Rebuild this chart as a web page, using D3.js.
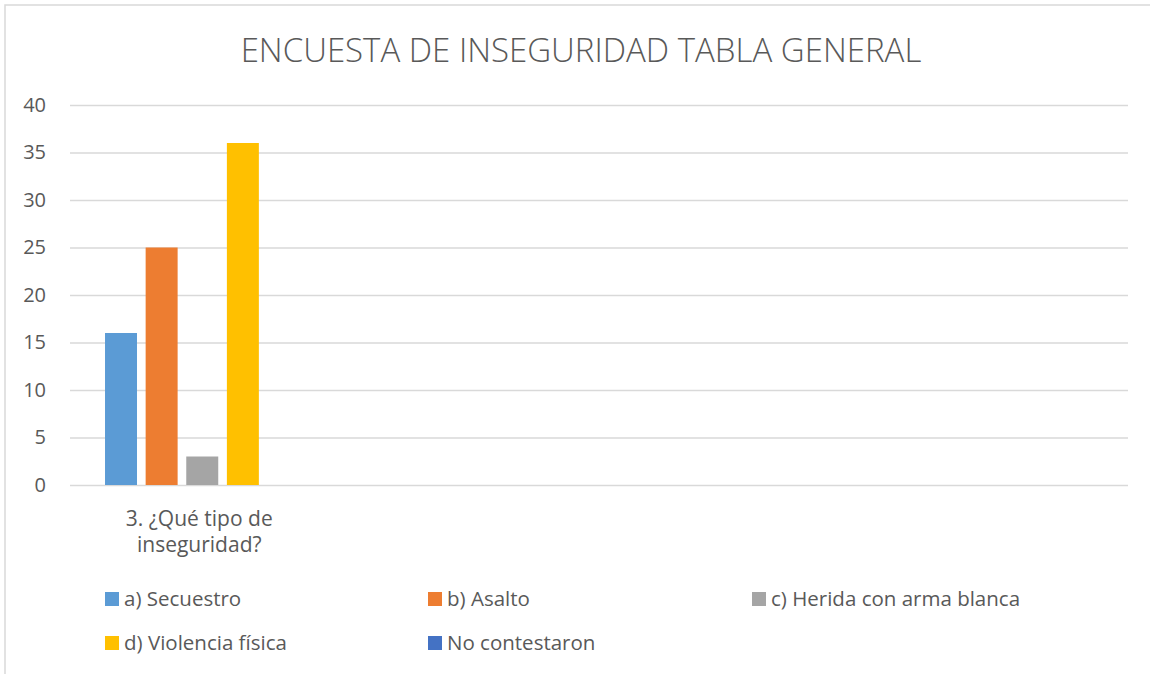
<!DOCTYPE html>
<html>
<head>
<meta charset="utf-8">
<script src="https://cdn.jsdelivr.net/npm/d3@7/dist/d3.min.js"></script>
<style>
  body { margin: 0; background: #fff; }
  svg { display: block; font-family: "Open Sans", "Noto Sans", sans-serif; }
  .grid line { stroke: #d9d9d9; stroke-width: 1.5; }
  .grid text { fill: #595959; font-size: 20px; }
  .xaxis text { fill: #595959; font-size: 21px; }
  .legend text { fill: #595959; font-size: 20.5px; }
</style>
</head>
<body>
<script>
(function(){
  //categories (only the first one has answers, the rest are blank in the sheet)
  var categories = ["3. ¿Qué tipo de inseguridad?", "", " ", "  "];

  //series names and colours
  var seriesNames = ["a) Secuestro", "b) Asalto", "c) Herida con arma blanca", "d) Violencia física", "No contestaron"];
  var seriesColors = ["#5b9bd5", "#ed7d31", "#a5a5a5", "#ffc000", "#4472c4"];

  //values per series, one per category
  var secuestro = [16, null, null, null];
  var asalto = [25, null, null, null];
  var herida = [3, null, null, null];
  var violencia = [36, null, null, null];
  var noContestaron = [0, null, null, null];

  var yTicks = [0, 5, 10, 15, 20, 25, 30, 35, 40];

  var seriesValues = [secuestro, asalto, herida, violencia, noContestaron];

  var width = 1150,
      height = 674,
      plotLeft = 70,
      plotRight = 1128,
      plotTop = 105,
      plotBottom = 485;

  var svg = d3.select("body")
      .append("svg")
      .attr("width", width)
      .attr("height", height);

  //chart frame
  svg.append("rect")
      .attr("x", 5)
      .attr("y", 5)
      .attr("width", width + 10)
      .attr("height", height + 10)
      .attr("fill", "#fff")
      .attr("stroke", "#d9d9d9")
      .attr("stroke-width", 1.5);

  //title
  svg.append("text")
      .attr("x", 581)
      .attr("y", 62)
      .attr("text-anchor", "middle")
      .style("font-size", "33px")
      .style("font-weight", 300)
      .style("fill", "#595959")
      .text("ENCUESTA DE INSEGURIDAD TABLA GENERAL");

  //scales
  var yScale = d3.scaleLinear()
      .domain([0, 40])
      .range([plotBottom, plotTop]);

  var xScale = d3.scaleBand()
      .domain(categories)
      .range([plotLeft, plotRight]);

  //excel style: gap width 219%, overlap -27%
  var barW = xScale.bandwidth() / (5 + 4 * 0.27 + 2.19);
  var xInner = d3.scaleBand()
      .domain(seriesNames)
      .range([barW * 2.19 / 2, xScale.bandwidth() - barW * 2.19 / 2])
      .paddingInner(0.27 / 1.27);

  //gridlines + y labels
  var yAxis = d3.axisLeft(yScale)
      .tickValues(yTicks)
      .tickSize(-(plotRight - plotLeft))
      .tickPadding(24);

  var grid = svg.append("g")
      .attr("class", "grid")
      .attr("transform", "translate(" + plotLeft + ",0)")
      .call(yAxis)
      .attr("font-family", null)
      .attr("font-size", null);
  grid.select(".domain").remove();

  //bars
  var rows = [];
  categories.forEach(function(c, i){
      seriesNames.forEach(function(s, j){
          var v = seriesValues[j][i];
          if (v != null) rows.push({cat: c, series: s, value: v, color: seriesColors[j]});
      });
  });

  svg.selectAll(".bar")
      .data(rows)
      .enter()
      .append("rect")
      .attr("class", "bar")
      .attr("x", function(d){ return xScale(d.cat) + xInner(d.series); })
      .attr("width", xInner.bandwidth())
      .attr("y", function(d){ return yScale(d.value); })
      .attr("height", function(d){ return plotBottom - yScale(d.value); })
      .attr("fill", function(d){ return d.color; });

  //category labels, wrapped on two lines
  var xAxis = d3.axisBottom(xScale)
      .tickSize(0)
      .tickFormat("");

  var xg = svg.append("g")
      .attr("class", "xaxis")
      .attr("transform", "translate(0," + plotBottom + ")")
      .call(xAxis)
      .attr("font-family", null)
      .attr("font-size", null);
  xg.select(".domain").remove();

  var labelLines = {"3. ¿Qué tipo de inseguridad?": ["3. ¿Qué tipo de", "inseguridad?"]};
  xg.selectAll(".tick").each(function(d){
      var lines = labelLines[d] || [];
      var t = d3.select(this).append("text")
          .attr("text-anchor", "middle")
          .attr("x", -3);
      lines.forEach(function(l, k){
          t.append("tspan")
              .attr("x", -3)
              .attr("y", 41 + k * 26)
              .text(l);
      });
  });

  //legend
  var legendX = [105, 428, 752];
  var legendY = [599, 643];

  var legend = svg.append("g")
      .attr("class", "legend")
      .selectAll("g")
      .data(seriesNames)
      .enter()
      .append("g")
      .attr("transform", function(d, i){
          return "translate(" + legendX[i % 3] + "," + legendY[Math.floor(i / 3)] + ")";
      });

  legend.append("rect")
      .attr("x", 0)
      .attr("y", -7)
      .attr("width", 14)
      .attr("height", 14)
      .attr("fill", function(d, i){ return seriesColors[i]; });

  legend.append("text")
      .attr("x", 19)
      .attr("y", 7)
      .text(function(d){ return d; });
})();
</script>
</body>
</html>
